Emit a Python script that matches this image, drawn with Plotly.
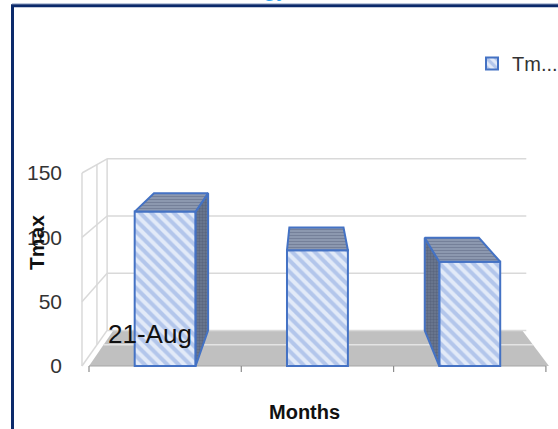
import plotly.graph_objects as go

# ---------------- data ----------------
cat_positions = [0, 1, 2]
cat_labels = ["21-Aug", "", ""]
tmax_values = [120, 90, 81]
series_name = "Tmax"
y_ticks = [0, 50, 100, 150]
x_title = "Months"
y_title = "Tmax"
chart_title = "Climatology"

# ---------------- layout constants ----------------
W, H = 558, 429
ML, MR, MT, MB = 63, 0, 0, 49
PX_PER_CAT = 152.3      # pixels per category
PX_PER_UNIT = 1.2867    # pixels per value unit (front plane)
X0_PX = 89              # pixel of the left category boundary
Y0_PX = 366             # pixel of value 0 (front plane)
xr = [-0.5 - (X0_PX - ML) / PX_PER_CAT, -0.5 + (W - MR - X0_PX) / PX_PER_CAT]
yr = [-(H - MB - Y0_PX) / PX_PER_UNIT, (Y0_PX - MT) / PX_PER_UNIT]

# perspective (in data units)
VX, VY = 0.94, 249.0
DEPTH = 0.111
T_MID = 0.066
WALL_X = -0.546
X_LEFT, X_RIGHT = -0.5, len(cat_positions) - 0.5
BAR_W = 0.40
YMAX = max(y_ticks)


def proj(x, y, t=DEPTH):
    return x + t * (VX - x), y + t * (VY - y)


def path(points):
    return "M" + "L".join(f"{px},{py}" for px, py in points) + "Z"


def line_shape(p0, p1, color="#d9d9d9", width=1.5):
    return dict(type="line", xref="x", yref="y", x0=p0[0], y0=p0[1], x1=p1[0], y1=p1[1],
                line=dict(color=color, width=width), layer="below")


shapes = []
# floor
floor_pts = [(X_LEFT, 0), (X_RIGHT + 0.02, 0), proj(X_RIGHT + 0.02, 0), proj(X_LEFT, 0)]
shapes.append(dict(type="path", xref="x", yref="y", path=path(floor_pts),
                   fillcolor="#c0c0c0", line=dict(width=0), layer="below"))
shapes.append(line_shape(proj(X_LEFT, 0, T_MID), proj(X_RIGHT + 0.02, 0, T_MID), "#e4e4e4", 1.5))
# back wall gridlines
for v in y_ticks:
    shapes.append(line_shape(proj(WALL_X, v), proj(X_RIGHT + 0.05, v)))
# left wall
shapes.append(line_shape((WALL_X, 0), (WALL_X, YMAX)))
shapes.append(line_shape(proj(WALL_X, 0), proj(WALL_X, YMAX)))
shapes.append(line_shape(proj(WALL_X, 0, T_MID), proj(WALL_X, YMAX, T_MID)))
for v in y_ticks:
    shapes.append(line_shape((WALL_X, v), proj(WALL_X, v)))
# category axis line and ticks
shapes.append(line_shape((X_LEFT, 0), (X_RIGHT, 0), "#a6a6a6", 1.2))
for k in range(len(cat_positions) + 1):
    shapes.append(dict(type="line", xref="x", yref="y", ysizemode="pixel", yanchor=0,
                       x0=X_LEFT + k, x1=X_LEFT + k, y0=0, y1=-6,
                       line=dict(color="#8c8c8c", width=1.2), layer="below"))
# chart frame
PW, PH = W - ML - MR, H - MT - MB
shapes.append(dict(type="line", xref="paper", yref="paper",
                   x0=(12 - ML) / PW, x1=1.1,
                   y0=1 - 3.6 / PH, y1=1 - 3.6 / PH,
                   line=dict(color="#b7c3da", width=1)))
shapes.append(dict(type="rect", xref="paper", yref="paper",
                   x0=(12.5 - ML) / PW, x1=1.1,
                   y0=-0.3, y1=1 - 5.8 / PH,
                   line=dict(color="#0c2a6b", width=3), fillcolor="rgba(0,0,0,0)"))

fig = go.Figure()

# front faces
fig.add_trace(go.Bar(
    x=cat_positions, y=tmax_values, width=BAR_W,
    name=series_name[:2] + "...",
    marker=dict(color="#e2eaf8", line=dict(color="#4472c4", width=2),
                pattern=dict(shape="\\", fgcolor="#84a2dd", bgcolor="#e2eaf8",
                             size=8, solidity=0.5, fillmode="overlay")),
    hoverinfo="skip",
))

# side and top faces
for c, v in zip(cat_positions, tmax_values):
    xl, xrr = c - BAR_W / 2, c + BAR_W / 2
    side = None
    if xrr < VX:
        side = [(xrr, 0), (xrr, v), proj(xrr, v), proj(xrr, 0), (xrr, 0)]
    elif xl > VX:
        side = [(xl, 0), (xl, v), proj(xl, v), proj(xl, 0), (xl, 0)]
    if side:
        fig.add_trace(go.Scatter(
            x=[p[0] for p in side], y=[p[1] for p in side], mode="lines", fill="toself",
            fillcolor="#65718b",
            fillpattern=dict(shape=".", fgcolor="#48536b", bgcolor="#6d7991", size=3, solidity=0.5),
            line=dict(color="#4472c4", width=2), showlegend=False, hoverinfo="skip"))
    top = [(xl, v), (xrr, v), proj(xrr, v), proj(xl, v), (xl, v)]
    fig.add_trace(go.Scatter(
        x=[p[0] for p in top], y=[p[1] for p in top], mode="lines", fill="toself",
        fillcolor="#7c879e",
        fillpattern=dict(shape="-", fgcolor="#56627c", bgcolor="#949fb6", size=3, solidity=0.5),
        line=dict(color="#4472c4", width=2), showlegend=False, hoverinfo="skip"))

FONT = "Liberation Sans, Arial, sans-serif"
annotations = []
for c, lab in zip(cat_positions, cat_labels):
    if lab:
        annotations.append(dict(x=c - 0.1, y=24.5, xref="x", yref="y", text=lab,
                                xanchor="center", yanchor="middle",
                                showarrow=False, font=dict(family=FONT, size=26, color="#111111")))
annotations.append(dict(x=(36 - ML) / PW, y=1 - 243 / PH, xanchor="center", yanchor="middle",
                        xref="paper", yref="paper", text=f"<b>{y_title}</b>", textangle=-90,
                        showarrow=False, font=dict(family=FONT, size=21, color="#111111")))
annotations.append(dict(x=(304 - ML) / PW, y=-(412 - (H - MB)) / PH, xanchor="center",
                        yanchor="middle", xref="paper", yref="paper", text=f"<b>{x_title}</b>",
                        showarrow=False, font=dict(family=FONT, size=20, color="#111111")))
annotations.append(dict(x=(290 - ML) / PW, y=1, yshift=-3, xanchor="right",
                        yanchor="bottom", xref="paper", yref="paper", text=chart_title,
                        showarrow=False, font=dict(family=FONT, size=24, color="#2ea6f2")))

fig.update_layout(
    width=W, height=H,
    margin=dict(l=ML, r=MR, t=MT, b=MB, autoexpand=False),
    paper_bgcolor="white", plot_bgcolor="white",
    shapes=shapes, annotations=annotations,
    showlegend=True,
    legend=dict(x=(472 - ML) / PW, y=1 - 44 / PH,
                xanchor="left", yanchor="top", bgcolor="rgba(0,0,0,0)",
                font=dict(family=FONT, size=20, color="#333333")),
    xaxis=dict(range=xr, visible=False, fixedrange=True),
    yaxis=dict(range=yr, tickmode="array", tickvals=y_ticks, ticktext=[str(t) for t in y_ticks],
               showgrid=False, zeroline=False, showline=False, ticks="", automargin=False,
               tickfont=dict(family=FONT, size=21, color="#333333"), fixedrange=True),
)

fig.write_html("out.html", config={"displayModeBar": False},
               post_script="document.body.style.margin='0px';")
